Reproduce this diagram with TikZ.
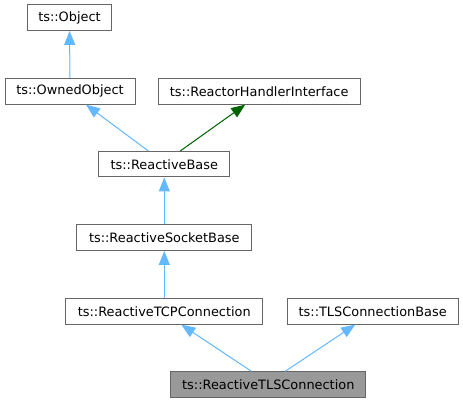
\documentclass[tikz,border=0pt]{standalone}
\usepackage{fontspec}
\setmainfont{DejaVu Sans}
\usetikzlibrary{arrows.meta}
\usetikzlibrary{calc}
\definecolor{edgeblue}{HTML}{63B8FF}
\definecolor{edgegreen}{HTML}{006400}
\definecolor{boxgray}{HTML}{666666}
\definecolor{boxfill}{HTML}{999999}

\begin{document}
\begin{tikzpicture}[x=1pt, y=-1pt]
    \tikzstyle{every node}=[font=\fontsize{12.9}{15}\selectfont]
    \tikzstyle{class}  = [rectangle, draw=boxgray, line width=1pt, fill=white, minimum height=25.5pt, inner sep=0pt, text centered]
    \tikzstyle{line}   = [draw=edgeblue, line width=1pt, -{Triangle[length=14pt, width=11pt]}]
    \tikzstyle{iface}  = [line, draw=edgegreen, fill=edgegreen]

    \useasboundingbox (0,0) rectangle (463,403);

    % Place nodes
    % Object chain:
    \node [class, minimum width=84.5pt] (object) at (69.5,17.7) {ts::Object};
    \node [class, minimum width=130pt] (owned) at (70,91.4) {ts::OwnedObject};
    \node [class, minimum width=201.7pt] (handler) at (259.2,91.4) {ts::ReactorHandlerInterface};
    \node [class, minimum width=131.3pt] (base) at (164.3,164.2) {ts::ReactiveBase};
    \node [class, minimum width=175.3pt] (socket) at (164.3,237.7) {ts::ReactiveSocketBase};

    % Connections
    \node [class, minimum width=196.7pt] (tcp) at (164.3,311.4) {ts::ReactiveTCPConnection};
    \node [class, minimum width=171.3pt] (tlsbase) at (372.7,311.4) {ts::TLSConnectionBase};
    \node [class, minimum width=195.3pt, fill=boxfill] (tls) at (268.3,384.5) {ts::ReactiveTLSConnection};

    \path [line, fill=edgeblue] (owned) -- (object);
    \path [line, fill=edgeblue] ($(base.north)+(-16,0)$) -- ($(owned.south)+(16,0)$);
    \path [iface] ($(base.north)+(16,0)$) -- ($(handler.south)+(-14,0)$);
    \path [line, fill=edgeblue] (socket) -- (base);
    \path [line, fill=edgeblue] (tcp) -- (socket);
    \path [line, fill=edgeblue] ($(tls.north)+(-17,0)$) -- ($(tcp.south)+(17,0)$);
    \path [line, fill=edgeblue] ($(tls.north)+(17,0)$) -- ($(tlsbase.south)+(-17.5,0)$);
\end{tikzpicture}
\end{document}
